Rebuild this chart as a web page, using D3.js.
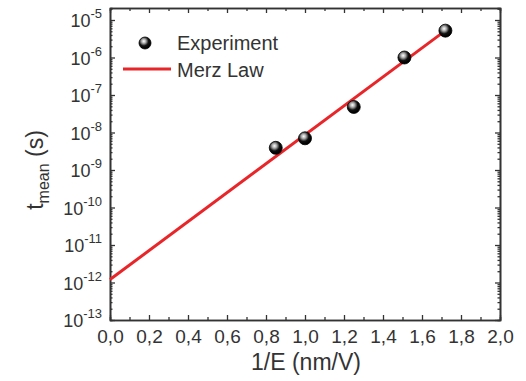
<!DOCTYPE html>
<html>
<head>
<meta charset="utf-8">
<script src="https://cdn.jsdelivr.net/npm/d3@7"></script>
<style>
  body { margin: 0; background: #fff; }
  text { font-family: "Liberation Sans", Arial, sans-serif; fill: #333; }
</style>
</head>
<body>
<script>
// measured points (1/E in nm/V, t_mean in s)
var expX = [0.85, 1.0, 1.25, 1.51, 1.72];
var expT = [3.9e-9, 7.0e-9, 4.8e-8, 1.0e-6, 5.2e-6];

// Merz law fit, straight on a log axis
var lawX = [0.0, 1.72];
var lawT = [1.2e-12, 5.2e-6];

var xTicks = [0, 0.2, 0.4, 0.6, 0.8, 1.0, 1.2, 1.4, 1.6, 1.8, 2.0];
var yExps = [-13, -12, -11, -10, -9, -8, -7, -6, -5];

var width = 526, height = 381;
var margins = { left: 110, right: 26, top: 8, bottom: 61 };

var svg = d3.select("body").append("svg")
            .attr("width", width)
            .attr("height", height);

var defs = svg.append("defs");
var grad = defs.append("radialGradient").attr("id", "ball")
               .attr("cx", "40%").attr("cy", "35%").attr("r", "60%");
grad.append("stop").attr("offset", "0%").attr("stop-color", "#fff");
grad.append("stop").attr("offset", "30%").attr("stop-color", "#aaa");
grad.append("stop").attr("offset", "65%").attr("stop-color", "#111");
grad.append("stop").attr("offset", "100%").attr("stop-color", "#000");

var x = d3.scaleLinear().domain([0, 2]).range([margins.left, width - margins.right]);
var y = d3.scaleLog().domain([1e-13, Math.pow(10, -4.68)]).range([height - margins.bottom, margins.top]);

var axisColor = "#333";

// minor ticks on log axis
var minorY = [];
for (var e = -13; e < -4; e++) {
    for (var k = 2; k <= 9; k++) {
        var v = k * Math.pow(10, e);
        if (v < y.domain()[1]) minorY.push(v);
    }
}
var minorX = d3.range(0.1, 2.0, 0.2);

// bottom axis
var bottom = svg.append("g").attr("transform", "translate(0," + (height - margins.bottom) + ")");
bottom.call(d3.axisBottom(x).tickValues(xTicks).tickSizeInner(-5).tickSizeOuter(0)
        .tickFormat(d => d3.format(".1f")(d).replace(".", ",")));
bottom.call(g => g.append("g").call(d3.axisBottom(x).tickValues(minorX).tickSize(-3).tickFormat("")));
// top axis
var topAx = svg.append("g").attr("transform", "translate(0," + margins.top + ")");
topAx.call(d3.axisTop(x).tickValues(xTicks).tickSizeInner(-5).tickSizeOuter(0).tickFormat(""));
topAx.call(g => g.append("g").call(d3.axisTop(x).tickValues(minorX).tickSize(-3).tickFormat("")));

// left axis
var left = svg.append("g").attr("transform", "translate(" + margins.left + ",0)");
left.call(d3.axisLeft(y).tickValues(yExps.map(p => Math.pow(10, p))).tickSizeInner(-5).tickSizeOuter(0).tickFormat(""));
left.call(g => g.append("g").call(d3.axisLeft(y).tickValues(minorY).tickSize(-2.5).tickFormat("")));
// right axis
var right = svg.append("g").attr("transform", "translate(" + (width - margins.right) + ",0)");
right.call(d3.axisRight(y).tickValues(yExps.map(p => Math.pow(10, p))).tickSizeInner(-5).tickSizeOuter(0).tickFormat(""));
right.call(g => g.append("g").call(d3.axisRight(y).tickValues(minorY).tickSize(-2.5).tickFormat("")));

svg.selectAll(".domain").attr("stroke", axisColor).attr("stroke-width", 1.6);
svg.selectAll(".tick line").attr("stroke", axisColor).attr("stroke-width", 1.3);

bottom.selectAll(".tick text")
      .attr("font-size", "19px").attr("fill", axisColor).attr("y", 7).attr("dy", "0.85em")
      .style("font-family", "Liberation Sans, Arial, sans-serif");

// y tick labels: 10^n
var yLab = svg.append("g");
yExps.forEach(function(p) {
    var t = yLab.append("text")
        .attr("x", margins.left - 8)
        .attr("y", y(Math.pow(10, p)) + 7)
        .attr("text-anchor", "end")
        .attr("font-size", "18px");
    t.append("tspan").text("10");
    t.append("tspan").attr("dy", "-9").attr("font-size", "13px").text(String(p));
});

// axis titles
svg.append("text")
   .attr("x", x(1.0) + 1)
   .attr("y", 370)
   .attr("text-anchor", "middle")
   .attr("font-size", "23px")
   .text("1/E (nm/V)");

var yTitle = svg.append("text")
   .attr("transform", "translate(43," + 170 + ") rotate(-90)")
   .attr("text-anchor", "middle")
   .attr("font-size", "23px");
yTitle.append("tspan").text("t");
yTitle.append("tspan").attr("dy", "6").attr("font-size", "16px").text("mean");
yTitle.append("tspan").attr("dy", "-6").text(" (s)");

// merz law line
var line = d3.line().x((d, i) => x(lawX[i])).y(d => y(d));
svg.append("path")
   .datum(lawT)
   .attr("d", line)
   .attr("fill", "none")
   .attr("stroke", "#e8262a")
   .attr("stroke-width", 3);

// experiment points
svg.selectAll(".pt")
   .data(expT)
   .enter()
   .append("circle")
   .attr("class", "pt")
   .attr("cx", (d, i) => x(expX[i]))
   .attr("cy", d => y(d))
   .attr("r", 6.5)
   .attr("fill", "url(#ball)")
   .attr("stroke", "#000")
   .attr("stroke-width", 0.8);

// legend
var legend = svg.append("g");
legend.append("circle").attr("cx", 145).attr("cy", 43).attr("r", 6)
      .attr("fill", "url(#ball)").attr("stroke", "#000").attr("stroke-width", 0.8);
legend.append("text").attr("x", 177).attr("y", 50).attr("font-size", "20px").text("Experiment");
legend.append("line").attr("x1", 123).attr("x2", 171).attr("y1", 69).attr("y2", 69)
      .attr("stroke", "#e8262a").attr("stroke-width", 3);
legend.append("text").attr("x", 177).attr("y", 77).attr("font-size", "20px").text("Merz Law");
</script>
</body>
</html>
